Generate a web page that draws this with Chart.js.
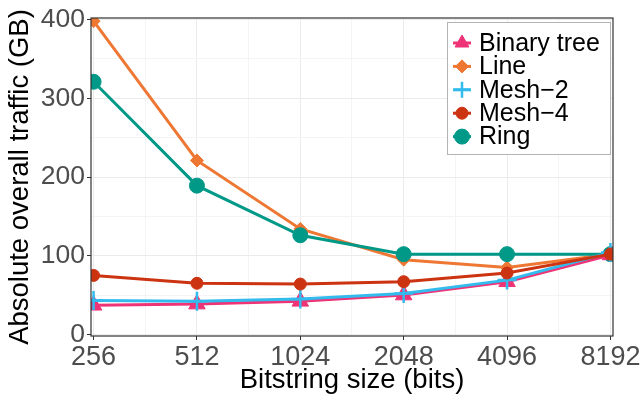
<!DOCTYPE html>
<html>
<head>
<meta charset="utf-8">
<script src="https://cdn.jsdelivr.net/npm/chart.js@4/dist/chart.umd.min.js"></script>
<style>
  html, body { margin: 0; padding: 0; background: #ffffff; }
  #wrap { width: 644px; height: 397px; }
</style>
</head>
<body>
<div id="wrap"><canvas id="c" width="644" height="397"></canvas></div>
<script>
// Bitstring sizes (bits) on the x axis
const sizes = ['256', '512', '1024', '2048', '4096', '8192'];

// Absolute overall traffic (GB) per topology
const binaryTree = [37, 38.5, 42, 50, 67, 101];
const lineTopo   = [398, 221, 134, 95, 85, 102];
const mesh2      = [43, 42, 45, 52, 69, 104];
const mesh4      = [75, 65, 64, 67, 78, 102];
const ring       = [321, 189, 126, 102, 102, 102];

const yMajor = [0, 100, 200, 300, 400];
const FONT = '"Liberation Sans", Arial, Helvetica, sans-serif';

const toPoints = arr => arr.map((v, i) => ({ x: i, y: v }));

function series(label, data, color, style, radius, order, bw) {
  return {
    label, data: toPoints(data), order,
    borderColor: color, backgroundColor: color,
    borderWidth: 3, tension: 0, clip: 0,
    pointStyle: style, pointRadius: radius, pointHoverRadius: radius,
    pointBorderWidth: bw, pointBackgroundColor: color, pointBorderColor: color
  };
}

const datasets = [
  series('Binary tree', binaryTree, '#EE3377', 'triangle', 9.5, 2, 1),
  series('Line', lineTopo, '#EE7733', 'rectRot', 6.5, 4, 1),
  series('Mesh\u22122', mesh2, '#33BBEE', 'cross', 9.5, 1, 2.5),
  series('Mesh\u22124', mesh4, '#CC3311', 'circle', 6, 0, 1),
  series('Ring', ring, '#009988', 'circle', 7.5, 3, 1)
];

// Panel frame drawn over the data, plus the boxed legend in the upper right
const panelAndLegend = {
  id: 'panelAndLegend',
  afterDatasetsDraw(chart) {
    const { ctx, chartArea: a } = chart;
    ctx.save();
    ctx.strokeStyle = '#333333';
    ctx.lineWidth = 1.2;
    ctx.strokeRect(a.left, a.top, a.right - a.left, a.bottom - a.top);

    const box = { x: 447.5, y: 22.5, w: 163, h: 132 };
    ctx.fillStyle = '#ffffff';
    ctx.fillRect(box.x, box.y, box.w, box.h);
    ctx.strokeStyle = '#b3b3b3';
    ctx.lineWidth = 1;
    ctx.strokeRect(box.x, box.y, box.w, box.h);

    chart.data.datasets.forEach((ds, i) => {
      const cy = 43 + i * 23.4;
      const cx = 462;
      ctx.strokeStyle = ds.borderColor;
      ctx.lineWidth = 3;
      ctx.beginPath();
      ctx.moveTo(cx - 9, cy);
      ctx.lineTo(cx + 9, cy);
      ctx.stroke();
      ctx.fillStyle = ds.pointBackgroundColor;
      ctx.strokeStyle = ds.pointBorderColor;
      ctx.lineWidth = ds.pointBorderWidth;
      Chart.helpers.drawPoint(ctx, {
        pointStyle: ds.pointStyle, radius: Math.min(ds.pointRadius, 8), rotation: 0,
        borderWidth: ds.pointBorderWidth
      }, cx, cy);
      ctx.fillStyle = '#000000';
      ctx.font = '25px ' + FONT;
      ctx.textAlign = 'left';
      ctx.textBaseline = 'middle';
      ctx.fillText(ds.label, 479, cy + 1);
    });
    ctx.restore();
  }
};

const isMajor = c => c.tick && Number.isInteger(c.tick.value) && (c.scale.axis === 'x' || c.tick.value % 100 === 0);
const gridColor = c => isMajor(c) ? '#EBEBEB' : '#F4F4F4';
const tickColor = c => isMajor(c) ? '#333333' : 'rgba(0,0,0,0)';

new Chart(document.getElementById('c'), {
  type: 'line',
  data: { datasets },
  plugins: [panelAndLegend],
  options: {
    responsive: false,
    devicePixelRatio: 1,
    animation: false,
    events: [],
    layout: { padding: { top: 18, right: 31, left: 0, bottom: 0 } },
    plugins: { legend: { display: false }, tooltip: { enabled: false } },
    scales: {
      x: {
        type: 'linear',
        min: -0.025, max: 5.025,
        afterBuildTicks: s => {
          const t = [];
          for (let v = 0; v <= 5; v += 0.5) t.push({ value: v });
          s.ticks = t;
        },
        afterFit: s => { s.height = 61; },
        border: { display: false },
        grid: { color: gridColor, tickColor: tickColor, tickLength: 4, lineWidth: 1 },
        ticks: {
          autoSkip: false, maxRotation: 0, padding: 1,
          color: '#4D4D4D', font: { family: FONT, size: 27 },
          callback: v => Number.isInteger(v) ? sizes[v] : ''
        },
        title: {
          display: true, text: 'Bitstring size (bits)', color: '#000000',
          font: { family: FONT, size: 27.5 }, padding: { top: 0, bottom: 0 }
        }
      },
      y: {
        type: 'linear',
        min: -2, max: 402,
        afterBuildTicks: s => {
          const t = [];
          for (let v = 0; v <= 400; v += 50) t.push({ value: v });
          s.ticks = t;
        },
        afterFit: s => { s.width = 91; },
        border: { display: false },
        grid: { color: gridColor, tickColor: tickColor, tickLength: 4, lineWidth: 1 },
        ticks: {
          autoSkip: false, padding: 2,
          color: '#4D4D4D', font: { family: FONT, size: 26.5 },
          callback: v => yMajor.includes(v) ? String(v) : ''
        },
        title: {
          display: true, text: 'Absolute overall traffic (GB)', color: '#000000',
          font: { family: FONT, size: 27.5 }, padding: { top: 4, bottom: 0 }
        }
      }
    }
  }
});
</script>
</body>
</html>
